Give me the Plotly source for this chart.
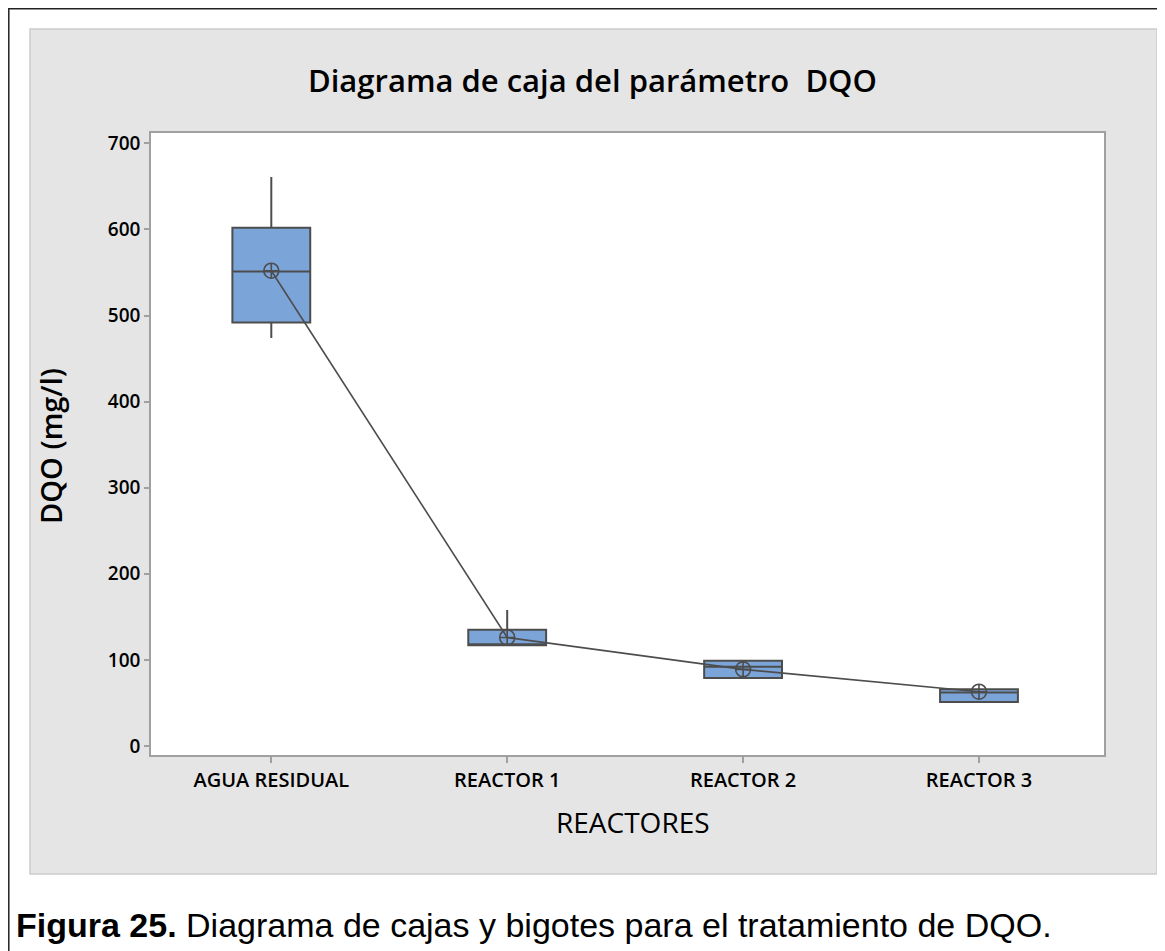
import plotly.graph_objects as go

categories = ["AGUA RESIDUAL", "REACTOR 1", "REACTOR 2", "REACTOR 3"]
q1_vals = [492, 117, 79, 51]
median_vals = [551, 118, 92, 62]
q3_vals = [602, 135, 99, 66]
lower_vals = [474, 117, 79, 51]
upper_vals = [661, 158, 100, 66]
mean_vals = [552, 126, 89, 63]
y_ticks = [0, 100, 200, 300, 400, 500, 600, 700]

OFF = 8  # page body margin
W, H = 1165 - OFF, 951 - OFF
# plot area in page coordinates
L, R, T, B = 151, 1104, 133, 755
pw, ph = R - L, B - T


def px(x):
    return (x - L) / pw


def py(y):
    return (B - y) / ph


dark = "#4D4D4D"
fig = go.Figure()
fig.add_trace(go.Box(
    x=categories, q1=q1_vals, median=median_vals, q3=q3_vals,
    lowerfence=lower_vals, upperfence=upper_vals,
    fillcolor="#7BA4D9", line=dict(color=dark, width=2),
    whiskerwidth=0, width=0.33, boxpoints=False, showlegend=False,
))
fig.add_trace(go.Scatter(
    x=categories, y=mean_vals, mode="lines+markers",
    line=dict(color=dark, width=1.6),
    marker=dict(symbol="circle-cross-open", size=15, color=dark, line=dict(width=1.6, color=dark)),
    showlegend=False,
))

font_main = "Open Sans"
shapes = [
    dict(type="rect", xref="paper", yref="paper", x0=px(OFF + 0.8), x1=px(1200), y0=py(OFF + 0.8), y1=py(1000),
         line=dict(color="#222222", width=1.5), fillcolor="white", layer="below"),
    dict(type="rect", xref="paper", yref="paper", x0=px(30), x1=px(1157), y0=py(29), y1=py(874),
         line=dict(color="#CCCCCC", width=1.5), fillcolor="#E5E5E5", layer="below"),
    dict(type="rect", xref="paper", yref="paper", x0=0, x1=1, y0=0, y1=1,
         line=dict(width=0), fillcolor="white", layer="below"),
]

annotations = [
    dict(text="Diagrama de caja del parámetro  DQO", xref="paper", yref="paper",
         x=px(592), y=py(80), xanchor="center", yanchor="middle", showarrow=False,
         font=dict(family=font_main, size=31, color="black", weight=600)),
    dict(text="DQO (mg/l)", xref="paper", yref="paper", textangle=-90,
         x=px(50), y=py(446), xanchor="center", yanchor="middle", showarrow=False,
         font=dict(family=font_main, size=29, color="black", weight=600)),
    dict(text="REACTORES", xref="paper", yref="paper",
         x=px(633), y=py(822), xanchor="center", yanchor="middle", showarrow=False,
         font=dict(family=font_main, size=28, color="black", weight=500)),
    dict(text="<b>Figura 25.</b> Diagrama de cajas y bigotes para el tratamiento de DQO.",
         xref="paper", yref="paper", x=px(14), y=py(925), xanchor="left", yanchor="middle",
         showarrow=False, font=dict(family="Liberation Sans, Arial", size=34, color="black")),
]

fig.update_layout(
    width=W, height=H,
    margin=dict(l=L - OFF, r=W - (R - OFF), t=T - OFF, b=H - (B - OFF), pad=0),
    paper_bgcolor="white", plot_bgcolor="rgba(0,0,0,0)",
    shapes=shapes, annotations=annotations,
    xaxis=dict(type="category", categoryorder="array", categoryarray=categories,
               range=[-0.51, 3.53], showgrid=False, zeroline=False,
               showline=True, linecolor="#A0A0A0", linewidth=1.5, mirror=True,
               ticks="outside", ticklen=6, tickcolor="#A0A0A0", tickwidth=1.5,
               tickfont=dict(family=font_main, size=20, color="black", weight=600)),
    yaxis=dict(range=[-10.5, 712], tickvals=y_ticks, showgrid=False, zeroline=False,
               showline=True, linecolor="#A0A0A0", linewidth=1.5, mirror=True,
               ticks="outside", ticklen=5, tickcolor="#A0A0A0", tickwidth=1.5,
               tickfont=dict(family=font_main, size=19, color="black", weight=600)),
)

fig.write_html("out.html")
